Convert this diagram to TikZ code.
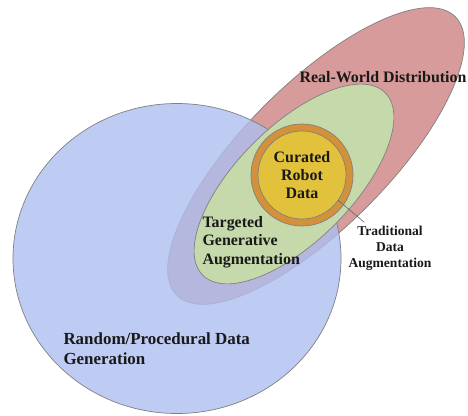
\documentclass[tikz,border=0pt]{standalone}
\usepackage{fontspec}
\setmainfont{Liberation Serif}
\usetikzlibrary{positioning}
\definecolor{realred}{RGB}{214,155,154}
\definecolor{procblue}{RGB}{174,190,239}
\definecolor{gengreen}{RGB}{197,217,170}
\definecolor{ringorange}{RGB}{211,146,58}
\definecolor{datayellow}{RGB}{226,194,60}
\tikzset{region/.style={draw=black!50, line width=0.7pt}}

\begin{document}
\begin{tikzpicture}[x=1bp, y=1bp,
	lbl/.style={align=center, text=black!90, font=\bfseries\fontsize{16}{18.5}\selectfont},
	small lbl/.style={align=center, text=black!90, font=\bfseries\fontsize{13.6}{16}\selectfont}]
		\useasboundingbox (0,0) rectangle (468,415);
		\draw [region, fill=realred] (316,259) ellipse [x radius=197, y radius=72, rotate=45];
		\draw [region, fill=procblue, fill opacity=0.8] (177,156.5) ellipse [x radius=164, y radius=155];
		\draw [region, fill=gengreen] (294,231) ellipse [x radius=129, y radius=57.5, rotate=45];
		\node [circle, region, fill=ringorange, minimum size=102bp] (ring) at (302,240) {};
		\node [circle, region, fill=datayellow, minimum size=88bp, lbl, inner sep=0pt] (crd) at (302,240) {Curated\\Robot\\Data};
		\node [lbl] (real) at (383,338) {Real-World Distribution};
		\node [lbl, align=left, anchor=west] (tga) at (199,173) {Targeted\\Generative\\Augmentation};
		\node [lbl, align=left, anchor=west, font=\bfseries\fontsize{17}{20}\selectfont] (rpg) at (60,66) {Random/Procedural Data\\Generation};
		\node [small lbl] (trad) at (390,167) {Traditional\\Data\\Augmentation};
		\draw [black!60, line width=0.6pt] (crd.-35) -- (trad.135);
\end{tikzpicture}
\end{document}
